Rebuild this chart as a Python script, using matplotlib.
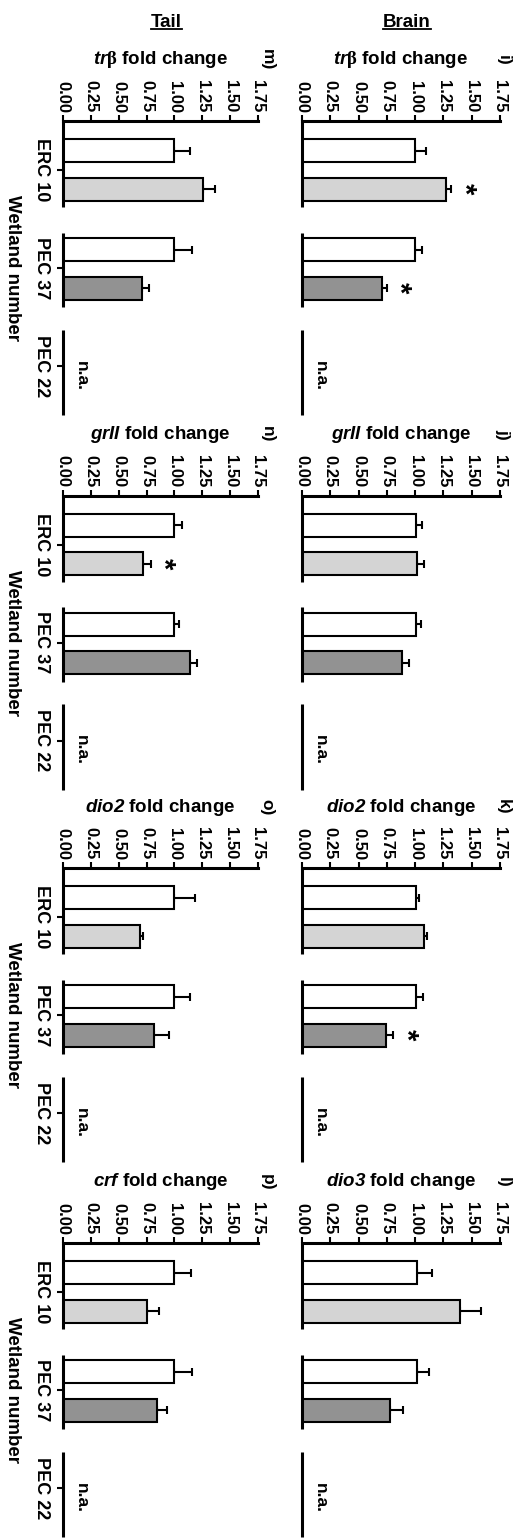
import matplotlib
matplotlib.use("Agg")
import matplotlib.pyplot as plt
from matplotlib.lines import Line2D
import numpy as np

plt.rcParams['font.family'] = ['Liberation Sans', 'DejaVu Sans']
plt.rcParams['font.weight'] = 'bold'
plt.rcParams['mathtext.fontset'] = 'custom'
plt.rcParams['mathtext.it'] = 'Liberation Sans:italic:bold'
plt.rcParams['mathtext.rm'] = 'Liberation Sans:italic:bold'
plt.rcParams['mathtext.sf'] = 'Liberation Serif'
plt.rcParams['mathtext.bf'] = 'Liberation Sans:bold'

# ---------------- data ----------------
categories = ["ERC 10", "PEC 37", "PEC 22"]
tissues = ["Brain", "Tail"]
x_label = "Wetland number"
value_ticks = [0.00, 0.25, 0.50, 0.75, 1.00, 1.25, 1.50, 1.75]

brain_genes = ["tr\u03b2", "grII", "dio2", "dio3"]
tail_genes = ["tr\u03b2", "grII", "dio2", "crf"]
brain_panels = ["i)", "j)", "k)", "l)"]
tail_panels = ["m)", "n)", "o)", "p)"]

# bar order per panel: ERC 10 reference, ERC 10 site, PEC 37 reference, PEC 37 site
brain_means = [
    [1.00, 1.27, 1.00, 0.705],
    [1.005, 1.015, 1.01, 0.88],
    [1.005, 1.075, 1.005, 0.745],
    [1.015, 1.395, 1.02, 0.775],
]
brain_err = [
    [0.095, 0.05, 0.065, 0.045],
    [0.055, 0.06, 0.04, 0.065],
    [0.028, 0.032, 0.062, 0.062],
    [0.135, 0.19, 0.103, 0.118],
]
brain_sig = [
    [False, True, False, True],
    [False, False, False, False],
    [False, False, False, True],
    [False, False, False, False],
]
tail_means = [
    [1.00, 1.255, 1.00, 0.71],
    [1.00, 0.72, 1.00, 1.14],
    [1.00, 0.69, 1.00, 0.82],
    [1.00, 0.75, 1.00, 0.84],
]
tail_err = [
    [0.144, 0.108, 0.16, 0.066],
    [0.071, 0.066, 0.045, 0.066],
    [0.185, 0.03, 0.137, 0.135],
    [0.148, 0.113, 0.158, 0.089],
]
tail_sig = [
    [False, False, False, False],
    [False, True, False, False],
    [False, False, False, False],
    [False, False, False, False],
]
na_label = "n.a."

bar_colors = ["white", "#d4d4d4", "white", "#929292"]

# ---------------- layout ----------------
W, H = 523, 1538
fig = plt.figure(figsize=(W / 100, H / 100), dpi=100)

col_geom = {"Brain": (302, 198), "Tail": (63, 195)}
row_tops = [121, 495.5, 868, 1243]
ax_h = 294

bar_pos = [-0.195, 0.195, 1 - 0.185, 1 + 0.205]
segments = [(-0.5, 0.38), (0.64, 1.40), (1.63, 2.5)]


def gene_label(g):
    if "\u03b2" in g:
        base = g.replace("\u03b2", "")
        return "$\\mathit{" + base + "}\\mathsf{\u03b2}$ fold change"
    return "$\\mathit{" + g + "}$ fold change"


def draw_panel(ax, means, errs, sig, gene, show_cats):
    ax.barh(bar_pos, means, height=0.235, color=bar_colors, edgecolor="black",
            linewidth=1.5, zorder=3)
    ax.errorbar(means, bar_pos, xerr=[np.zeros(len(means)), errs], fmt="none",
                ecolor="black", elinewidth=1.5, capsize=3, capthick=1.5, zorder=2)
    for m, e, s, p in zip(means, errs, sig, bar_pos):
        if s:
            ax.text(m + e + 0.11, p, "*", fontsize=21, rotation=-90,
                    ha="center", va="center")
    ax.set_xlim(0, 1.75)
    ax.set_ylim(2.5, -0.5)
    for sp in ["left", "right", "bottom"]:
        ax.spines[sp].set_visible(False)
    ax.spines["top"].set_linewidth(2.2)
    ax.xaxis.tick_top()
    ax.set_xticks(value_ticks)
    ax.set_xticklabels(["%.2f" % v for v in value_ticks])
    ax.tick_params(axis="x", direction="out", length=4.5, width=1.5, pad=1.5,
                   labelsize=12, labelrotation=-90)
    ax.vlines([0] * len(segments), [s[0] for s in segments], [s[1] for s in segments],
              colors="black", lw=2.2, clip_on=False, zorder=4)
    if show_cats:
        ax.set_yticks([0, 1, 2])
        ax.set_yticklabels(categories)
        ax.tick_params(axis="y", direction="out", length=4.5, width=1.5, pad=5,
                       labelsize=13, labelrotation=-90)
        for lbl in ax.get_yticklabels():
            lbl.set_va("center")
    else:
        ax.set_yticks([])
    ax.text(0.1, 2.1, na_label, rotation=-90, ha="left", va="center", fontsize=12.5)
    ax.text(0.5, 1 + 61 / ax_h, gene_label(gene), transform=ax.transAxes,
            ha="center", va="center", fontsize=13.5)


for tissue, genes, panels, means, errs, sigs in [
    ("Brain", brain_genes, brain_panels, brain_means, brain_err, brain_sig),
    ("Tail", tail_genes, tail_panels, tail_means, tail_err, tail_sig),
]:
    x0, w = col_geom[tissue]
    for r in range(4):
        top = row_tops[r]
        ax = fig.add_axes([x0 / W, 1 - (top + ax_h) / H, w / W, ax_h / H])
        draw_panel(ax, means[r], errs[r], sigs[r], genes[r], tissue == "Tail")
        if tissue == "Tail":
            ax.text((12.5 - x0) / w, 0.5, x_label, transform=ax.transAxes,
                    rotation=-90, ha="center", va="center", fontsize=13.5)
        px = 503 if tissue == "Brain" else 267
        fig.text(px / W, 1 - (top - 61) / H, panels[r], rotation=-90,
                 ha="center", va="center", fontsize=12.5)

# headings with underline
head_texts = []
for tissue, cx in [("Brain", 407), ("Tail", 166)]:
    t = fig.text(cx / W, 1 - 27 / H, tissue, ha="center", va="baseline", fontsize=13.5)
    head_texts.append(t)

fig.canvas.draw()
renderer = fig.canvas.get_renderer()
for t in head_texts:
    bb = t.get_window_extent(renderer)
    yline = 1 - 29 / H
    fig.add_artist(Line2D([bb.x0 / W, bb.x1 / W], [yline, yline],
                          transform=fig.transFigure, color="black", lw=1.3))

fig.savefig("out.png", dpi=100)
